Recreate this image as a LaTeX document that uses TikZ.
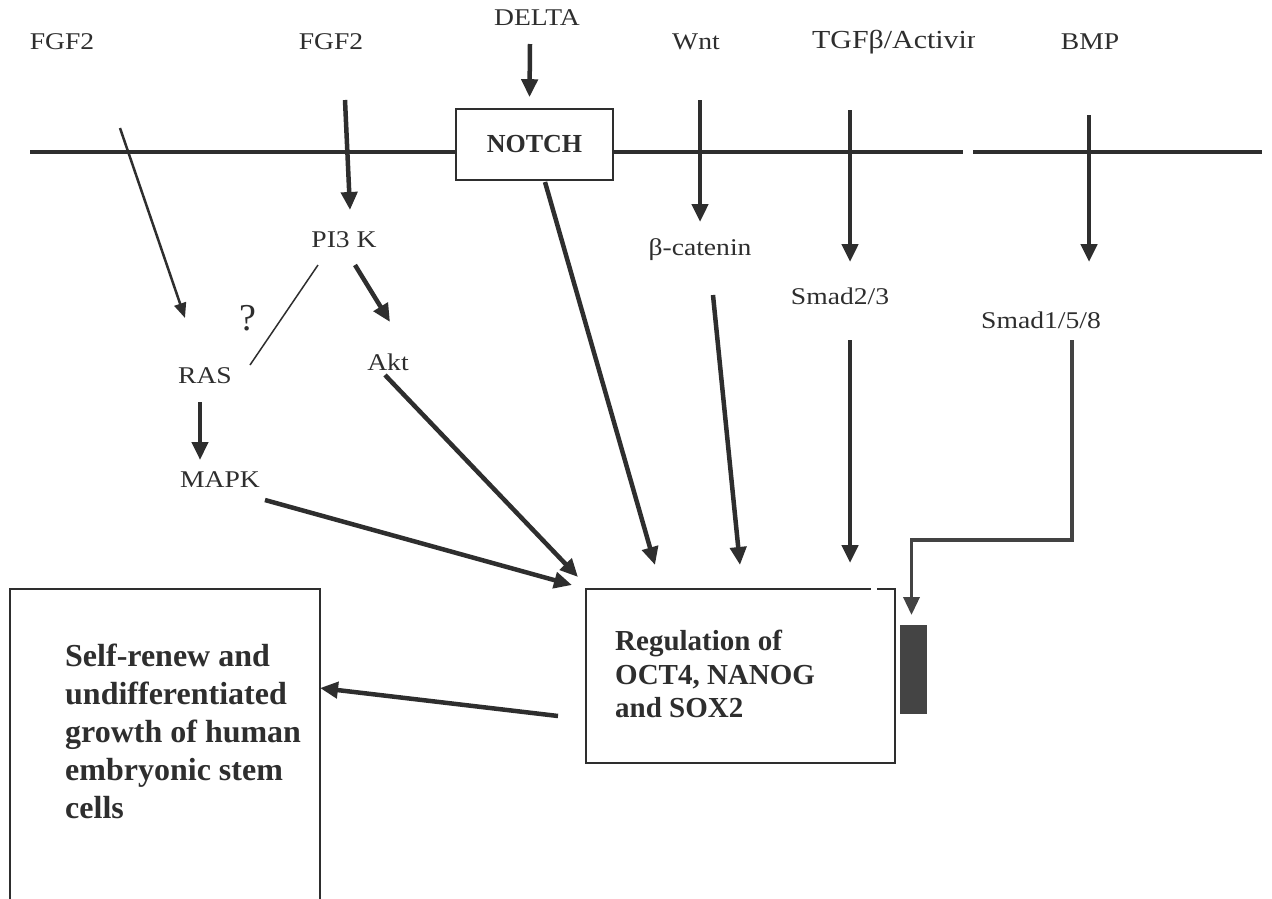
\documentclass[tikz,border=0pt]{standalone}
\usepackage{fontspec}
\setmainfont{Liberation Serif}
\newfontfamily\lblfont{Liberation Serif}[FakeStretch=1.15]
\usetikzlibrary{arrows.meta}
\definecolor{ink}{HTML}{2E2E2E}
\definecolor{bargray}{HTML}{444444}
\tikzset{
  lbl/.style={font=\lblfont\fontsize{24}{26}\selectfont, text=ink, inner sep=2pt},
  boldtxt/.style={font=\bfseries\fontsize{29}{33.5}\selectfont, text=ink, inner sep=0pt, align=left},
  sig/.style={draw=ink, line width=4.5pt, -{Triangle[width=16pt,length=18pt]}},
  thinsig/.style={draw=ink, line width=2.5pt, -{Triangle[width=12pt,length=15pt]}},
  elbow/.style={draw=ink!90, line width=3.5pt, -{Triangle[width=16pt,length=18pt]}},
  box/.style={draw=ink, line width=1.6pt},
  membrane/.style={draw=ink, line width=4pt},
}
\begin{document}
\begin{tikzpicture}[x=1pt,y=-1pt]
\useasboundingbox[fill=white] (0,0) rectangle (1272,898);

\node[lbl] (fgfA) at (62,42) {FGF2};
\node[lbl] (fgfB) at (331,42) {FGF2};
\node[lbl] (delta) at (537,18) {DELTA};
\node[lbl] (wnt) at (696,42) {Wnt};
\begin{scope}
\clip (790,15) rectangle (974,75);
\node[lbl, font=\lblfont\fontsize{26}{28}\selectfont, anchor=west] (tgf) at (810,42) {TGFβ/Activin};
\end{scope}
\node[lbl] (bmp) at (1090,42) {BMP};

\node[box, font=\bfseries\fontsize{26}{28}\selectfont, text=ink, minimum width=157pt, minimum height=71pt, inner sep=0pt] (notch) at (534.5,144.5) {NOTCH};

\coordinate (memL) at (30,152);
\coordinate (memG1) at (963,152);
\coordinate (memG2) at (973,152);
\coordinate (memR) at (1262,152);
\draw[membrane] (memL) -- (memL -| notch.west);
\draw[membrane] (memL -| notch.east) -- (memG1);
\draw[membrane] (memG2) -- (memR);

\node[lbl] (pik) at (344,240) {PI3 K};
\node[lbl] (bcat) at (700,250) {β-catenin};
\node[lbl] (smadA) at (840,296) {Smad2/3};
\node[lbl] (smadB) at (1041,320) {Smad1/5/8};
\node[lbl, font=\fontsize{38}{40}\selectfont] (q) at (248,318) {?};
\node[lbl] (ras) at (205,376) {RAS};
\node[lbl] (akt) at (388,362) {Akt};
\node[lbl] (mapk) at (220,480) {MAPK};

\node[minimum width=309pt, minimum height=174pt, inner sep=0pt, outer sep=0pt] (reg) at (740.5,676) {};
\draw[box] ([xshift=-18pt]reg.north east) -- (reg.north east) -- (reg.south east) -- (reg.south west) -- (reg.north west) -- ([xshift=-24pt]reg.north east);
\node[boldtxt, anchor=north west] (regtxt) at (615,630) {Regulation of\\OCT4, NANOG\\and SOX2};
\node[fill=bargray, minimum width=27pt, minimum height=89pt, inner sep=0pt] (bar) at (913.5,669.5) {};

\node[minimum width=310pt, minimum height=351pt, inner sep=0pt, outer sep=0pt] (self) at (165,764.5) {};
\draw[box] (self.south west) -- (self.north west) -- (self.north east) -- (self.south east);
\node[boldtxt, font=\bfseries\fontsize{32}{38}\selectfont, anchor=north west] (selftxt) at (65,644) {Self-renew and\\undifferentiated\\growth of human\\embryonic stem\\cells};

\draw[thinsig] ([shift={(58,86)}]fgfA.center) -- ([shift={(-20,-58)}]ras.center);
\draw[sig] ([shift={(14,58)}]fgfB.center) -- ([shift={(6,-30)}]pik.center);
\draw[sig] ([shift={(-7,26)}]delta.center) -- ([shift={(-5,-11)}]notch.north);
\draw[sig] ([shift={(4,58)}]wnt.center) -- ([shift={(0,-28)}]bcat.center);
\draw[sig] ([shift={(40,68)}]tgf.west) -- ([shift={(10,-34)}]smadA.center);
\draw[sig] ([shift={(-1,73)}]bmp.center) -- ([shift={(48,-58)}]smadB.center);
\draw[sig] ([shift={(11,25)}]pik.center) -- ([shift={(2,-40)}]akt.center);
\draw[draw=ink, line width=1.5pt] ([shift={(-26,25)}]pik.center) -- ([shift={(45,-11)}]ras.center);
\draw[sig] ([shift={(-5,26)}]ras.center) -- ([shift={(-20,-20)}]mapk.center);
\draw[sig] ([shift={(10.5,37.5)}]notch.center) -- ([shift={(-85.5,-111)}]reg.center);
\draw[sig] ([shift={(-3,13)}]akt.center) -- ([shift={(-162.5,-99)}]reg.center);
\draw[sig] ([shift={(45,20)}]mapk.center) -- ([shift={(-168.5,-91)}]reg.center);
\draw[sig] ([shift={(13,45)}]bcat.center) -- ([shift={(-0.5,-111)}]reg.center);
\draw[sig] ([shift={(10,44)}]smadA.center) -- ([shift={(109.5,-113)}]reg.center);
\draw[elbow] ([shift={(31,20)}]smadB.center) -- ++(0,200) -| ([shift={(-2,-54.5)}]bar.center);
\draw[sig] ([shift={(-182.5,40)}]reg.center) -- ([shift={(0,-76.5)}]self.east);
\end{tikzpicture}
\end{document}
